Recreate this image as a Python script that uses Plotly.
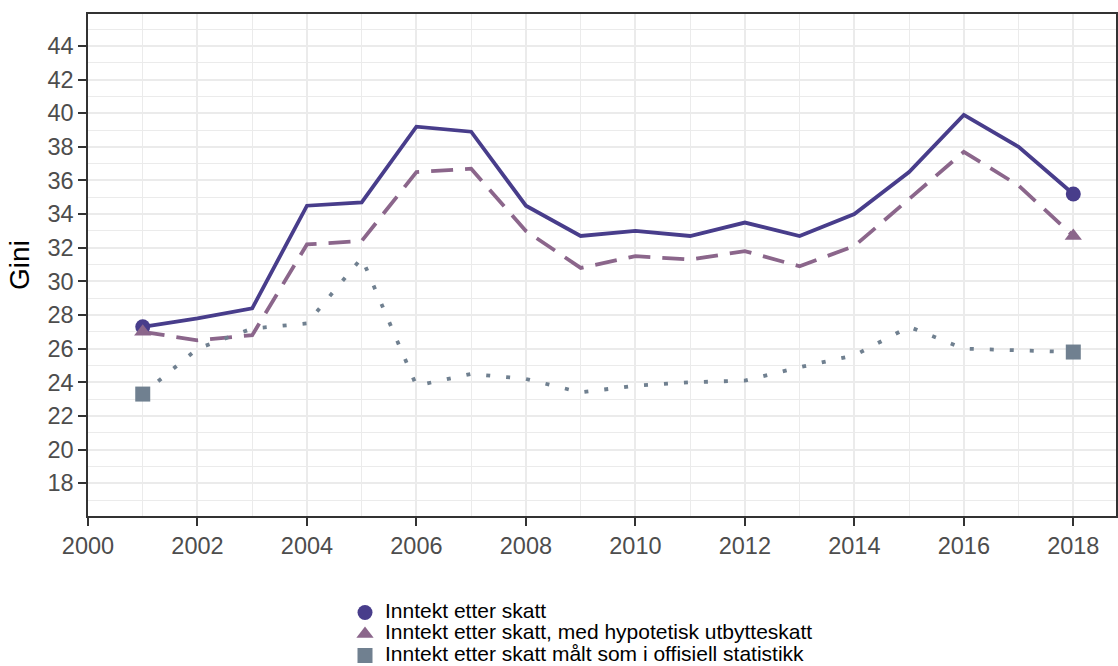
import plotly.graph_objects as go

years = list(range(2001, 2019))
etter_skatt = [27.3, 27.8, 28.4, 34.5, 34.7, 39.2, 38.9, 34.5, 32.7, 33.0, 32.7, 33.5, 32.7, 34.0, 36.5, 39.9, 38.0, 35.2]
hypotetisk = [27.0, 26.5, 26.8, 32.2, 32.4, 36.5, 36.7, 33.0, 30.8, 31.5, 31.3, 31.8, 30.9, 32.1, 34.9, 37.7, 35.7, 32.7]
offisiell = [23.3, 26.0, 27.2, 27.5, 31.4, 23.8, 24.5, 24.2, 23.4, 23.8, 24.0, 24.1, 24.9, 25.6, 27.3, 26.0, 25.9, 25.8]

names = ["Inntekt etter skatt",
         "Inntekt etter skatt, med hypotetisk utbytteskatt",
         "Inntekt etter skatt målt som i offisiell statistikk"]
colors = ["#483D8B", "#8B668B", "#708090"]
dashes = ["solid", "22px,12px", "4px,16px"]
symbols = ["circle", "triangle-up", "square"]
series = [etter_skatt, hypotetisk, offisiell]

fig = go.Figure()
for vals, name, col, dash in zip(series, names, colors, dashes):
    fig.add_trace(go.Scatter(x=years, y=vals, mode="lines", line=dict(color=col, width=3.8, dash=dash),
                             showlegend=False, hoverinfo="skip"))
for vals, name, col, sym in zip(series, names, colors, symbols):
    fig.add_trace(go.Scatter(x=[years[0], years[-1]], y=[vals[0], vals[-1]], mode="markers",
                             marker=dict(color=col, symbol=sym, size=15, line=dict(width=0)),
                             name='<span style="font-size:21px">' + name + '</span>', showlegend=True))

fig.update_layout(
    width=1118, height=666,
    margin=dict(l=88, r=0, t=14, b=150),
    plot_bgcolor="white", paper_bgcolor="white",
    font=dict(family="Liberation Sans, Arial, sans-serif", size=23, color="#4d4d4d"),
    legend=dict(x=0.25, xanchor="left", yref="container", y=0.104, yanchor="top", orientation="v",
                font=dict(size=14.2, color="black"), tracegroupgap=0, itemsizing="trace",
                bgcolor="rgba(0,0,0,0)"),
    showlegend=True,
)
fig.update_xaxes(range=[2000, 2018.78], tickmode="array", tickvals=list(range(2000, 2019, 2)),
                 showgrid=True, gridcolor="#ebebeb", gridwidth=2.2,
                 minor=dict(tickvals=list(range(2001, 2019, 2)), showgrid=True, gridcolor="#ebebeb", gridwidth=1.2),
                 ticks="outside", ticklen=8, tickcolor="#333333", tickwidth=2,
                 showline=True, linecolor="#333333", linewidth=1.5, mirror=True, zeroline=False,
                 tickfont=dict(size=23.5, color="#4d4d4d"))
fig.update_yaxes(range=[16.05, 45.9], tickmode="array", tickvals=list(range(18, 45, 2)),
                 showgrid=True, gridcolor="#ebebeb", gridwidth=2.2,
                 minor=dict(tickvals=list(range(17, 46, 2)), showgrid=True, gridcolor="#ebebeb", gridwidth=1.2),
                 ticks="outside", ticklen=8, tickcolor="#333333", tickwidth=2,
                 showline=True, linecolor="#333333", linewidth=1.5, mirror=True, zeroline=False,
                 title=dict(text="Gini", font=dict(size=28, color="black"), standoff=10),
                 tickfont=dict(size=23.5, color="#4d4d4d"))

fig.write_html("out.html", config={"displayModeBar": False},
               post_script="document.body.style.margin='0';document.body.style.overflow='hidden';")
